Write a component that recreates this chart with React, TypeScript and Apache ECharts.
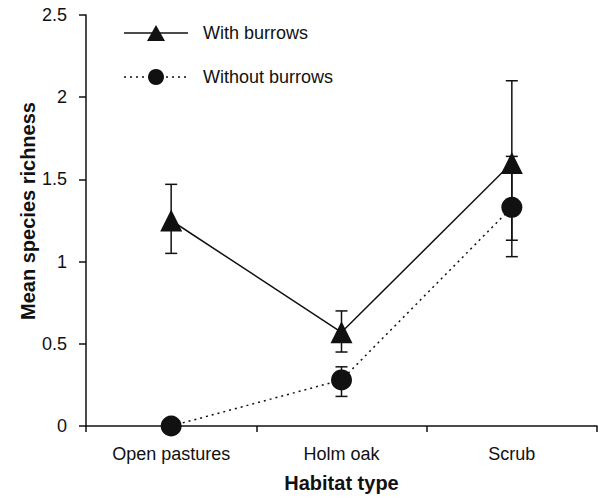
import React, { useEffect, useRef } from "react";
import * as echarts from "echarts";

const categories = ["Open pastures", "Holm oak", "Scrub"];
const withBurrows = [1.25, 0.57, 1.6];
const withLow = [1.05, 0.45, 1.13];
const withHigh = [1.47, 0.7, 2.1];
const withoutBurrows = [0.0, 0.28, 1.33];
const withoutLow: (number | null)[] = [null, 0.18, 1.03];
const withoutHigh: (number | null)[] = [null, 0.36, 1.64];
const yTicks = [0, 0.5, 1, 1.5, 2, 2.5];

const FONT = '"Liberation Sans", Arial, Helvetica, sans-serif';
const INK = "#111";

function errData(low: (number | null)[], high: (number | null)[]) {
  const out: number[][] = [];
  low.forEach((l, i) => {
    const h = high[i];
    if (l != null && h != null) out.push([i, l, h]);
  });
  return out;
}

function renderErr(params: any, api: any) {
  const x = api.value(0);
  const lo = api.coord([x, api.value(1)]);
  const hi = api.coord([x, api.value(2)]);
  const cap = 6;
  const style = { stroke: INK, lineWidth: 1.5 };
  return {
    type: "group",
    children: [
      { type: "line", shape: { x1: lo[0], y1: lo[1], x2: hi[0], y2: hi[1] }, style },
      { type: "line", shape: { x1: lo[0] - cap, y1: lo[1], x2: lo[0] + cap, y2: lo[1] }, style },
      { type: "line", shape: { x1: hi[0] - cap, y1: hi[1], x2: hi[0] + cap, y2: hi[1] }, style },
    ],
  };
}

export default function App() {
  const ref = useRef<HTMLDivElement>(null);
  useEffect(() => {
    if (!ref.current) return;
    const chart = echarts.init(ref.current, undefined, { renderer: "svg" });
    chart.setOption({
      animation: false,
      backgroundColor: "#fff",
      textStyle: { fontFamily: FONT, color: INK },
      grid: { left: 86, right: 4, top: 15, bottom: 72, containLabel: false },
      xAxis: {
        type: "category",
        data: categories,
        boundaryGap: true,
        name: "Habitat type",
        nameLocation: "middle",
        nameGap: 47,
        nameTextStyle: { fontFamily: FONT, fontSize: 20, fontWeight: "bold", color: INK },
        axisLine: { lineStyle: { color: INK, width: 1.5 } },
        axisTick: { show: true, inside: false, length: 6, lineStyle: { color: INK, width: 1.5 } },
        axisLabel: { fontFamily: FONT, fontSize: 18, color: INK, margin: 19 },
        splitLine: { show: false },
      },
      yAxis: {
        type: "value",
        min: yTicks[0],
        max: yTicks[yTicks.length - 1],
        interval: 0.5,
        axisLine: { show: true, lineStyle: { color: INK, width: 1.5 } },
        axisTick: { show: true, inside: false, length: 7, lineStyle: { color: INK, width: 1.5 } },
        axisLabel: { fontFamily: FONT, fontSize: 18, color: INK, margin: 19 },
        splitLine: { show: false },
      },
      graphic: [
        {
          type: "text",
          x: 28,
          y: 211,
          rotation: Math.PI / 2,
          style: {
            text: "Mean species richness",
            font: `bold 20px ${FONT}`,
            fill: INK,
            textAlign: "center",
            textVerticalAlign: "middle",
          },
        },
        { type: "line", shape: { x1: 124, y1: 33, x2: 188, y2: 33 }, style: { stroke: INK, lineWidth: 1.5 } },
        { type: "polygon", shape: { points: [[147, 41], [165, 41], [156, 25]] }, style: { fill: INK } },
        {
          type: "text",
          x: 203,
          y: 33,
          style: { text: "With burrows", font: `18px ${FONT}`, fill: INK, textVerticalAlign: "middle" },
        },
        {
          type: "line",
          shape: { x1: 124, y1: 77, x2: 188, y2: 77 },
          style: { stroke: INK, lineWidth: 1.5, lineDash: [2, 4] },
        },
        { type: "circle", shape: { cx: 156, cy: 77, r: 8 }, style: { fill: INK } },
        {
          type: "text",
          x: 203,
          y: 77,
          style: { text: "Without burrows", font: `18px ${FONT}`, fill: INK, textVerticalAlign: "middle" },
        },
      ],
      series: [
        {
          type: "custom",
          name: "with-err",
          renderItem: renderErr,
          data: errData(withLow, withHigh),
          encode: { x: 0, y: [1, 2] },
          z: 1,
          silent: true,
        },
        {
          type: "custom",
          name: "without-err",
          renderItem: renderErr,
          data: errData(withoutLow, withoutHigh),
          encode: { x: 0, y: [1, 2] },
          z: 1,
          silent: true,
        },
        {
          type: "line",
          name: "Without burrows",
          data: withoutBurrows,
          symbol: "circle",
          symbolSize: 21,
          itemStyle: { color: INK },
          lineStyle: { color: INK, width: 1.5, type: [2, 4] },
          z: 3,
        },
        {
          type: "line",
          name: "With burrows",
          data: withBurrows,
          symbol: "triangle",
          symbolSize: 22,
          itemStyle: { color: INK },
          lineStyle: { color: INK, width: 1.5 },
          z: 4,
        },
      ],
    });
    return () => chart.dispose();
  }, []);
  return (
    <div
      ref={ref}
      style={{ position: "fixed", left: 0, top: 0, width: 601, height: 498, background: "#fff" }}
    />
  );
}
